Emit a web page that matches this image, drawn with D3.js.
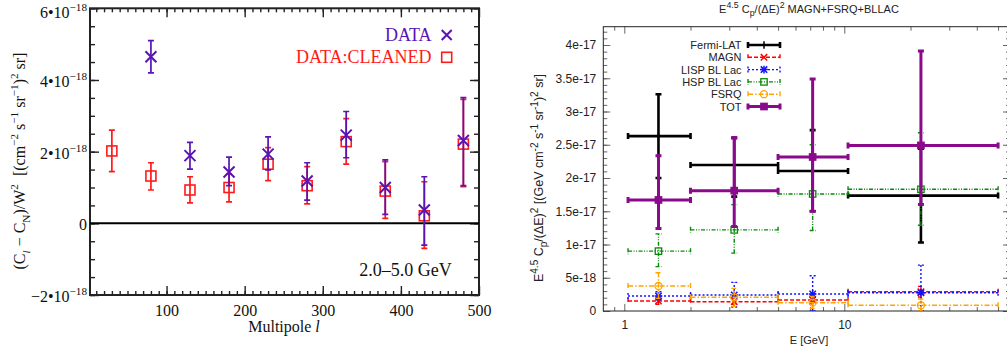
<!DOCTYPE html>
<html>
<head>
<meta charset="utf-8">
<script src="https://cdn.jsdelivr.net/npm/d3@7"></script>
<style>
  html, body { margin: 0; padding: 0; background: #fff; }
  svg { display: block; }
  text { white-space: pre; }
</style>
</head>
<body>
<svg id="chart" width="1007" height="356"></svg>
<script>
// ---------- left panel data (values in units of 1e-18) ----------
const dataL   = [80, 130, 180, 230, 280, 330, 380, 430, 480];
const dataVal = [4.65, 1.89, 1.43, 1.93, 1.18, 2.46, 1.00, 0.37, 2.31];
const dataLo  = [4.20, 1.51, 1.05, 1.49, 0.65, 1.83, 0.25, -0.61, 1.05];
const dataHi  = [5.10, 2.26, 1.85, 2.41, 1.69, 3.12, 1.77, 1.30, 3.51];

const cleanL   = [30, 80, 130, 180, 230, 280, 330, 380, 430, 480];
const cleanVal = [2.02, 1.32, 0.93, 1.00, 1.65, 1.05, 2.28, 0.90, 0.21, 2.21];
const cleanLo  = [1.44, 0.93, 0.57, 0.60, 1.19, 0.54, 1.65, 0.14, -0.70, 1.02];
const cleanHi  = [2.60, 1.69, 1.30, 1.38, 2.11, 1.58, 2.92, 1.72, 1.16, 3.46];

const yTicksL = [-2, 0, 2, 4, 6];
const yTickLabelsL = [["−2•10", "−18"], ["0", ""], ["2•10", "−18"], ["4•10", "−18"], ["6•10", "−18"]];
const xTicksL = [100, 200, 300, 400, 500];

// ---------- right panel data (values in units of 1e-17) ----------
const binLo  = [1.04, 2.0, 5.0, 10.4];
const binHi  = [2.0, 5.0, 10.4, 50];
const binMid = [1.43, 3.16, 7.18, 22.3];

const fermi   = [2.63, 2.195, 2.105, 1.735];
const fermiLo = [2.00, 1.72, 1.50, 1.03];
const fermiHi = [3.26, 2.60, 2.72, 2.44];
const magn    = [0.15, 0.14, 0.165, 0.29];
const magnLo  = [0.10, 0.10, 0.11, 0.21];
const magnHi  = [0.21, 0.19, 0.23, 0.37];
const lisp    = [0.226, 0.24, 0.256, 0.275];
const lispLo  = [0.17, 0.06, 0.0, 0.0];
const lispHi  = [0.29, 0.43, 0.53, 0.69];
const hsp     = [0.90, 1.22, 1.76, 1.83];
const hspLo   = [0.667, 0.87, 1.21, 1.29];
const hspHi   = [1.16, 1.60, 2.50, 2.68];
const fsrq    = [0.376, 0.206, 0.125, 0.086];
const fsrqLo  = [0.19, 0.07, 0.04, 0.0];
const fsrqHi  = [0.576, 0.34, 0.22, 0.18];
const tot     = [1.67, 1.81, 2.316, 2.49];
const totLo   = [1.24, 1.27, 1.50, 1.60];
const totHi   = [2.335, 2.61, 3.49, 3.91];

const yTicksR = [0, 0.5, 1, 1.5, 2, 2.5, 3, 3.5, 4];
const yTickLabelsR = ["0", "5e-18", "1e-17", "1.5e-17", "2e-17", "2.5e-17", "3e-17", "3.5e-17", "4e-17"];
const xTicksR = [1, 10];
const xMinorR = [0.9, 2, 3, 4, 5, 6, 7, 8, 9, 20, 30, 40, 50];

const seriesR = [
    { name: "Fermi-LAT",   v: fermi, lo: fermiLo, hi: fermiHi, color: "#000000", width: 2.6, dash: null,            marker: "plus" },
    { name: "MAGN",        v: magn,  lo: magnLo,  hi: magnHi,  color: "#ff0000", width: 1.4, dash: "4,2",           marker: "x" },
    { name: "LISP BL Lac", v: lisp,  lo: lispLo,  hi: lispHi,  color: "#1010ff", width: 1.4, dash: "2,2",           marker: "star" },
    { name: "HSP BL Lac",  v: hsp,   lo: hspLo,   hi: hspHi,   color: "#0a8a0a", width: 1.4, dash: "4,1.5,1,1.5,1,1.5", marker: "square" },
    { name: "FSRQ",        v: fsrq,  lo: fsrqLo,  hi: fsrqHi,  color: "#ffa500", width: 1.4, dash: "5,2,1.5,2",     marker: "circle" },
    { name: "TOT",         v: tot,   lo: totLo,   hi: totHi,   color: "#8b0a8b", width: 3,   dash: null,            marker: "fsquare" }
];

const svg = d3.select("#chart");

// text with sub/superscripts, parts = [text, mode]
function rich(sel, parts, fs, small) {
    let cur = 0;
    parts.forEach(([t, mode = ""]) => {
        const off = mode.includes("sup") ? -0.42 : mode.includes("sub") ? 0.3 : 0;
        const ts = sel.append("tspan").text(t);
        if (off !== cur) ts.attr("dy", ((off - cur) * fs).toFixed(2));
        if (off !== 0) ts.attr("font-size", (fs * small).toFixed(2));
        if (mode.includes("it")) ts.attr("font-style", "italic");
        cur = off;
    });
}

function drawMarker(g, type, x, y, color, s) {
    if (type === "x" || type === "star") {
        g.append("path").attr("d", `M${x - s},${y - s}L${x + s},${y + s}M${x - s},${y + s}L${x + s},${y - s}`)
            .attr("stroke", color).attr("stroke-width", 1.5).attr("fill", "none");
    }
    if (type === "plus" || type === "star") {
        g.append("path").attr("d", `M${x - s * 1.2},${y}L${x + s * 1.2},${y}M${x},${y - s * 1.2}L${x},${y + s * 1.2}`)
            .attr("stroke", color).attr("stroke-width", 1.5).attr("fill", "none");
    }
    if (type === "square" || type === "fsquare") {
        g.append("rect").attr("x", x - s).attr("y", y - s).attr("width", 2 * s).attr("height", 2 * s)
            .attr("fill", type === "fsquare" ? color : "none").attr("stroke", color).attr("stroke-width", 1.3);
    }
    if (type === "circle") {
        g.append("circle").attr("cx", x).attr("cy", y).attr("r", s)
            .attr("fill", "none").attr("stroke", color).attr("stroke-width", 1.3);
    }
}

// ================= LEFT PANEL =================
const xL = d3.scaleLinear().domain([2, 500]).range([90, 479]);
const yL = d3.scaleLinear().domain([-2, 6]).range([295, 8.3]);
const left = svg.append("g").attr("font-family", "'Liberation Serif', 'Times New Roman', serif");

// minor ticks
const tickStyle = sel => sel.call(g => g.select(".domain").remove())
    .call(g => g.selectAll(".tick line").attr("stroke", "#222").attr("stroke-width", 1.4));

left.append("g").attr("transform", "translate(90,0)")
    .call(d3.axisLeft(yL).tickValues(d3.range(-2, 6.01, 0.5)).tickSizeInner(-5).tickSizeOuter(0).tickFormat(""))
    .call(tickStyle);
left.append("g").attr("transform", "translate(479,0)")
    .call(d3.axisRight(yL).tickValues(d3.range(-2, 6.01, 0.5)).tickSizeInner(-5).tickSizeOuter(0).tickFormat(""))
    .call(tickStyle);
left.append("g").attr("transform", "translate(0,295)")
    .call(d3.axisBottom(xL).tickValues(d3.range(10, 500, 10)).tickSizeInner(-4).tickSizeOuter(0).tickFormat(""))
    .call(tickStyle);
left.append("g").attr("transform", "translate(0,8.3)")
    .call(d3.axisTop(xL).tickValues(d3.range(10, 500, 10)).tickSizeInner(-4).tickSizeOuter(0).tickFormat(""))
    .call(tickStyle);

// major ticks
left.append("g").attr("transform", "translate(90,0)")
    .call(d3.axisLeft(yL).tickValues(yTicksL).tickSizeInner(-9).tickSizeOuter(0).tickPadding(3))
    .call(tickStyle)
    .call(g => g.selectAll(".tick text")
        .attr("font-family", "'Liberation Serif', serif").attr("font-size", 16).attr("fill", "#111")
        .attr("dy", d => d === 6 ? "0.55em" : "0.4em")
        .each(function (d) {
            const lab = yTickLabelsL[yTicksL.indexOf(d)];
            const t = d3.select(this).text(null);
            rich(t, lab[1] ? [[lab[0]], [lab[1], "sup"]] : [[lab[0]]], 16, 0.7);
        }));
left.append("g").attr("transform", "translate(479,0)")
    .call(d3.axisRight(yL).tickValues(yTicksL).tickSizeInner(-9).tickSizeOuter(0).tickFormat(""))
    .call(tickStyle);
left.append("g").attr("transform", "translate(0,295)")
    .call(d3.axisBottom(xL).tickValues(xTicksL).tickSizeInner(-9).tickSizeOuter(0).tickPadding(10))
    .call(tickStyle)
    .call(g => g.selectAll(".tick text")
        .attr("font-family", "'Liberation Serif', serif").attr("font-size", 16).attr("fill", "#111"));
left.append("g").attr("transform", "translate(0,8.3)")
    .call(d3.axisTop(xL).tickValues(xTicksL).tickSizeInner(-9).tickSizeOuter(0).tickFormat(""))
    .call(tickStyle);

// frame and zero line
left.append("rect").attr("x", 90).attr("y", 8.3).attr("width", 389).attr("height", 286.7)
    .attr("fill", "none").attr("stroke", "#222").attr("stroke-width", 2);
left.append("line").attr("x1", 90).attr("x2", 479).attr("y1", yL(0)).attr("y2", yL(0))
    .attr("stroke", "#000").attr("stroke-width", 2);

// points with error bars
function errPointsL(xs, vs, los, his, color, marker) {
    const g = left.append("g");
    xs.forEach((l, i) => {
        const x = xL(l);
        g.append("path")
            .attr("d", `M${x},${yL(los[i])}V${yL(his[i])}M${x - 3},${yL(los[i])}H${x + 3}M${x - 3},${yL(his[i])}H${x + 3}`)
            .attr("stroke", color).attr("stroke-width", 1.7).attr("fill", "none");
        if (marker === "x") {
            g.append("path").attr("d", `M${x - 5.5},${yL(vs[i]) - 5.5}l11,11M${x - 5.5},${yL(vs[i]) + 5.5}l11,-11`)
                .attr("stroke", color).attr("stroke-width", 2).attr("fill", "none");
        } else {
            g.append("rect").attr("x", x - 5).attr("y", yL(vs[i]) - 5).attr("width", 10).attr("height", 10)
                .attr("fill", "none").attr("stroke", color).attr("stroke-width", 1.6);
        }
    });
}
const purple = "#5a14b4", red = "#ff1a1a";
errPointsL(cleanL, cleanVal, cleanLo, cleanHi, red, "square");
errPointsL(dataL, dataVal, dataLo, dataHi, purple, "x");

// legend
left.append("text").attr("x", 431.5).attr("y", 40.7).attr("text-anchor", "end")
    .attr("font-size", 18).attr("fill", purple).text("DATA");
left.append("path").attr("d", "M441.7,30l10,10M441.7,40l10,-10").attr("stroke", purple).attr("stroke-width", 2).attr("fill", "none");
left.append("text").attr("x", 431.5).attr("y", 63.3).attr("text-anchor", "end")
    .attr("font-size", 18).attr("fill", red).text("DATA:CLEANED");
left.append("rect").attr("x", 441.7).attr("y", 52.3).attr("width", 10).attr("height", 10)
    .attr("fill", "none").attr("stroke", red).attr("stroke-width", 1.6);

left.append("text").attr("x", 451.7).attr("y", 276).attr("text-anchor", "end")
    .attr("font-size", 18).attr("fill", "#111").text("2.0–5.0 GeV");

left.append("text").attr("x", 284).attr("y", 332).attr("text-anchor", "middle")
    .attr("font-size", 16).attr("fill", "#111")
    .call(t => rich(t, [["Multipole "], ["l", "it"]], 16, 1));

left.append("text").attr("transform", "translate(25,161) rotate(-90)").attr("text-anchor", "middle")
    .attr("font-size", 16).attr("fill", "#111")
    .call(t => rich(t, [["(C"], ["l", "sub it"], [" − C"], ["N", "sub"], [")/W"], ["2", "sup"], ["  [(cm"], ["−2", "sup"],
        [" s"], ["−1", "sup"], [" sr"], ["−1", "sup"], [")"], ["2", "sup"], [" sr]"]], 16, 0.7));

// ================= RIGHT PANEL =================
const RL = 603.3, RR = 1010, RT = 26.7, RB = 311;
const xR = d3.scaleLog().domain([1, 10]).range([624.3, 844.3]);
const yR = d3.scaleLinear().domain([0, 4]).range([311, 45]);
const right = svg.append("g").attr("font-family", "'Liberation Sans', Arial, Helvetica, sans-serif");

const tickStyleR = sel => sel.call(g => g.select(".domain").remove())
    .call(g => g.selectAll(".tick line").attr("stroke", "#666").attr("stroke-width", 1));

right.append("g").attr("transform", `translate(${RL},0)`)
    .call(d3.axisLeft(yR).tickValues(d3.range(0, 4.3, 0.1)).tickSizeInner(-4).tickSizeOuter(0).tickFormat(""))
    .call(tickStyleR);
right.append("g").attr("transform", `translate(${RL},0)`)
    .call(d3.axisLeft(yR).tickValues(yTicksR).tickSizeInner(-7).tickSizeOuter(0).tickPadding(7)
        .tickFormat((d, i) => yTickLabelsR[i]))
    .call(tickStyleR)
    .call(g => g.selectAll(".tick text").attr("font-family", "'Liberation Sans', Arial, sans-serif")
        .attr("font-size", 12).attr("fill", "#222"));
right.append("g").attr("transform", `translate(${RR},0)`)
    .call(d3.axisRight(yR).tickValues(d3.range(0, 4.3, 0.1)).tickSizeInner(-4).tickSizeOuter(0).tickFormat(""))
    .call(tickStyleR);
right.append("g").attr("transform", `translate(${RR},0)`)
    .call(d3.axisRight(yR).tickValues(yTicksR).tickSizeInner(-7).tickSizeOuter(0).tickFormat(""))
    .call(tickStyleR);
right.append("g").attr("transform", `translate(0,${RB})`)
    .call(d3.axisBottom(xR).tickValues(xMinorR).tickSizeInner(-4).tickSizeOuter(0).tickFormat(""))
    .call(tickStyleR);
right.append("g").attr("transform", `translate(0,${RB})`)
    .call(d3.axisBottom(xR).tickValues(xTicksR).tickSizeInner(-7).tickSizeOuter(0).tickPadding(9).tickFormat(d3.format("d")))
    .call(tickStyleR)
    .call(g => g.selectAll(".tick text").attr("font-family", "'Liberation Sans', Arial, sans-serif")
        .attr("font-size", 12).attr("fill", "#222"));
right.append("g").attr("transform", `translate(0,${RT})`)
    .call(d3.axisTop(xR).tickValues(xMinorR).tickSizeInner(-4).tickSizeOuter(0).tickFormat(""))
    .call(tickStyleR);
right.append("g").attr("transform", `translate(0,${RT})`)
    .call(d3.axisTop(xR).tickValues(xTicksR).tickSizeInner(-7).tickSizeOuter(0).tickFormat(""))
    .call(tickStyleR);

right.append("rect").attr("x", RL).attr("y", RT).attr("width", RR - RL).attr("height", RB - RT)
    .attr("fill", "none").attr("stroke", "#222").attr("stroke-width", 1);

svg.append("defs").append("clipPath").attr("id", "clipR")
    .append("rect").attr("x", RL).attr("y", RT).attr("width", RR - RL).attr("height", RB - RT);

const dataG = right.append("g").attr("clip-path", "url(#clipR)");
seriesR.forEach(s => {
    const g = dataG.append("g");
    s.v.forEach((v, i) => {
        const x0 = xR(binLo[i]), x1 = xR(binHi[i]), xm = xR(binMid[i]);
        const y = yR(v), ylo = yR(s.lo[i]), yhi = yR(s.hi[i]);
        g.append("path")
            .attr("d", `M${x0},${y}H${x1}M${x0},${y - 3}V${y + 3}M${x1},${y - 3}V${y + 3}` +
                `M${xm},${ylo}V${yhi}M${xm - 3},${ylo}H${xm + 3}M${xm - 3},${yhi}H${xm + 3}`)
            .attr("stroke", s.color).attr("stroke-width", s.width).attr("fill", "none")
            .attr("stroke-dasharray", s.dash);
        drawMarker(g, s.marker, xm, y, s.color, s.marker === "circle" ? 3.5 : 3.2);
    });
});

// legend
seriesR.forEach((s, k) => {
    const y = 45 + k * 12.3;
    right.append("text").attr("x", 741.5).attr("y", y + 4).attr("text-anchor", "end")
        .attr("font-size", 11).attr("fill", "#222").text(s.name);
    right.append("path").attr("d", `M748,${y}H780M748,${y - 3}V${y + 3}M780,${y - 3}V${y + 3}`)
        .attr("stroke", s.color).attr("stroke-width", s.width).attr("fill", "none")
        .attr("stroke-dasharray", s.dash);
    drawMarker(right, s.marker, 764, y, s.color, s.marker === "circle" ? 3.5 : 3.2);
});

// titles
right.append("text").attr("x", 809).attr("y", 12.5).attr("text-anchor", "middle")
    .attr("font-size", 11).attr("fill", "#222")
    .call(t => rich(t, [["E"], ["4.5", "sup"], [" C"], ["p", "sub"], ["/(ΔE)"], ["2", "sup"], [" MAGN+FSRQ+BLLAC"]], 11, 0.8));
right.append("text").attr("x", 809).attr("y", 344).attr("text-anchor", "middle")
    .attr("font-size", 11).attr("fill", "#222").text("E [GeV]");
right.append("text").attr("transform", "translate(543,178) rotate(-90)").attr("text-anchor", "middle")
    .attr("font-size", 12.5).attr("fill", "#222")
    .call(t => rich(t, [["E"], ["4.5", "sup"], [" C"], ["p", "sub"], ["/(ΔE)"], ["2", "sup"], [" [(GeV cm"], ["-2", "sup"],
        [" s"], ["-1", "sup"], [" sr"], ["-1", "sup"], [")"], ["2", "sup"], [" sr]"]], 12.5, 0.8));
</script>
</body>
</html>
